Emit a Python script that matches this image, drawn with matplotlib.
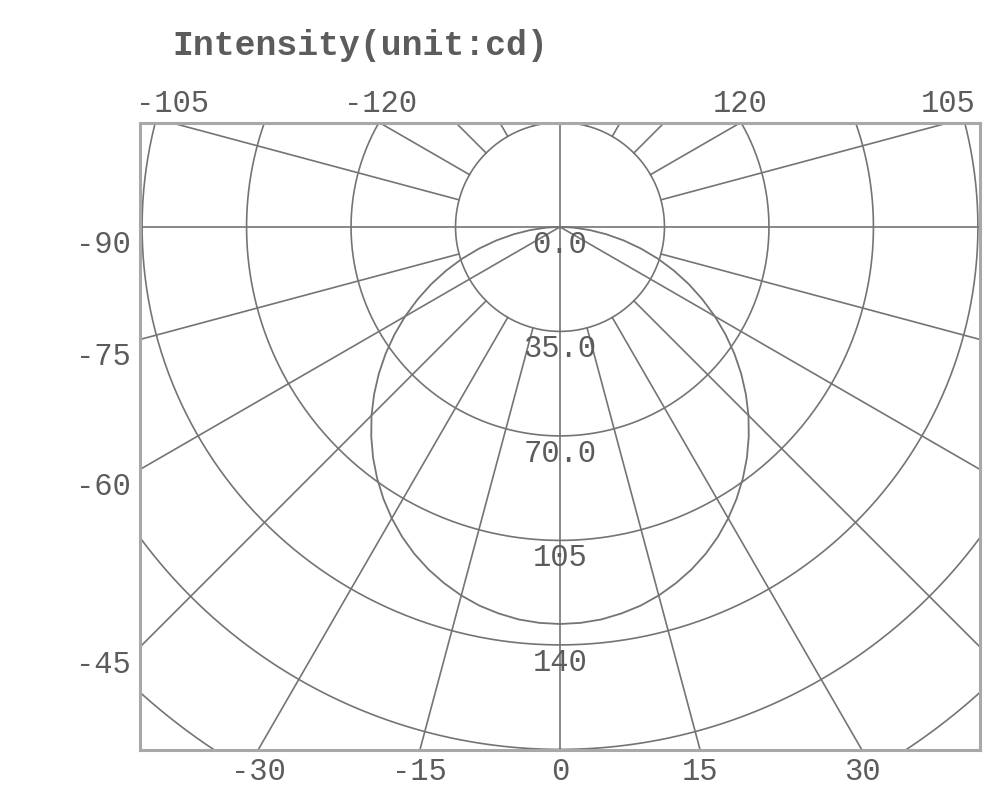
import numpy as np
import matplotlib.pyplot as plt

# intensity distribution (cd), 0..90 deg, mirrored for -90..0
half_angles = list(range(0, 91, 3))
half_intensity = [133.0, 132.8, 132.2, 131.1, 129.7, 127.8, 125.5, 122.9, 119.9, 116.5,
                  112.7, 108.6, 104.2, 99.5, 94.5, 89.3, 83.8, 78.1, 72.2, 66.1,
                  59.9, 53.6, 47.3, 40.9, 34.5, 28.1, 21.8, 15.7, 9.9, 4.5, 0.0]
angles = [-a for a in half_angles[::-1]] + half_angles[1:]
intensity = half_intensity[::-1] + half_intensity[1:]

ring_values = [35, 70, 105, 140, 175, 210]
ring_labels = ['0.0', '35.0', '70.0', '105', '140']
spoke_angles = list(range(-180, 180, 15))
left_labels = [-90, -75, -60, -45]
top_labels = [-105, -120, 120, 105]
bottom_labels = [-30, -15, 0, 15, 30]

grid_c = '#747474'
text_c = '#5c5c5c'
font = 'Liberation Mono'
fs = 22

fig = plt.figure(figsize=(9.83, 7.88), dpi=100)
ax = fig.add_axes([140 / 983, 38 / 788, 840 / 983, 627 / 788])
xmax, ytop, ybot = 140.7, 34.8, -175.2
ax.set_xlim(-xmax, xmax)
ax.set_ylim(ybot, ytop)
ax.set_xticks([])
ax.set_yticks([])
for s in ax.spines.values():
    s.set_color('#a8a8a8')
    s.set_linewidth(2.2)


def to_xy(theta, r):
    t = np.radians(theta)
    return np.asarray(r) * np.sin(t), -np.asarray(r) * np.cos(t)


# rings
t = np.linspace(0, 360, 721)
for r in ring_values:
    x, y = to_xy(t, r)
    ax.plot(x, y, color=grid_c, lw=1.2)

# spokes (main axes and the +-60 beam lines start at the centre)
for a in spoke_angles:
    r0 = 0 if a % 90 == 0 or abs(a) == 60 else 35
    x, y = to_xy(a, np.array([r0, 400]))
    ax.plot(x, y, color=grid_c, lw=1.2)

# measured curve
x, y = to_xy(np.array(angles), np.array(intensity))
ax.plot(x, y, color=grid_c, lw=1.3)

# ring labels
for i, lab in enumerate(ring_labels):
    ax.text(0, -35 * i - 6, lab, ha='center', va='center', color=text_c,
            family=font, fontsize=fs)

# angle labels round the frame
for a in left_labels:
    t_ = np.radians(a)
    y = -xmax * np.cos(t_) / abs(np.sin(t_))
    ax.annotate(str(a), (-xmax, y - 6), xytext=(-7, 0), textcoords='offset points',
                ha='right', va='center', color=text_c, family=font, fontsize=fs,
                annotation_clip=False)
for a in top_labels:
    t_ = np.radians(a)
    x = ytop * np.sin(t_) / -np.cos(t_)
    ax.annotate(str(a), (x, ytop), xytext=(0, 3), textcoords='offset points',
                ha='center', va='bottom', color=text_c, family=font, fontsize=fs,
                annotation_clip=False)
for a in bottom_labels:
    t_ = np.radians(a)
    x = -ybot * np.tan(t_)
    ax.annotate(str(a), (x, ybot), xytext=(0, -26.5), textcoords='offset points',
                ha='center', va='bottom', color=text_c, family=font, fontsize=fs,
                annotation_clip=False)

fig.text(172 / 983, 1 - 46 / 788, 'Intensity(unit:cd)', ha='left', va='center',
         color=text_c, family=font, fontsize=25, fontweight='bold')

fig.savefig('out.png', dpi=100)
